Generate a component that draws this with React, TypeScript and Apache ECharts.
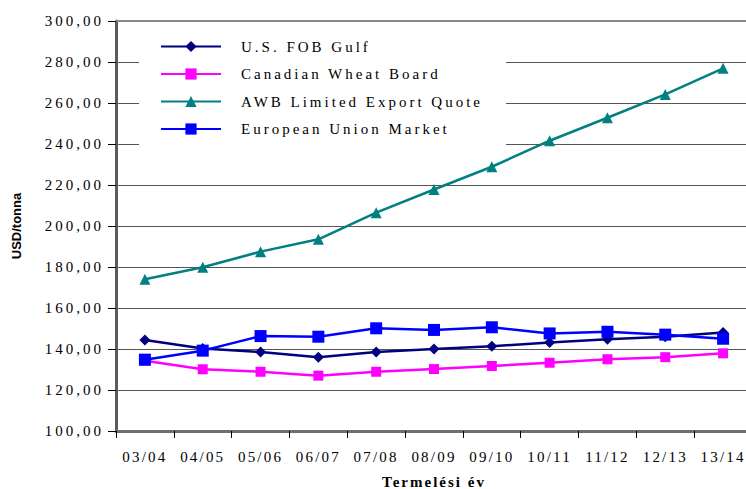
import React, { useEffect, useRef } from 'react';
import * as echarts from 'echarts';

const categories = ['03/04', '04/05', '05/06', '06/07', '07/08', '08/09', '09/10', '10/11', '11/12', '12/13', '13/14'];
const seriesNames = ['U.S. FOB Gulf', 'Canadian Wheat Board', 'AWB Limited Export Quote', 'European Union Market'];
const usFobGulf = [144.4, 140.2, 138.5, 136.0, 138.5, 140.0, 141.3, 143.2, 144.7, 146.0, 148.0];
const canadianWheatBoard = [134.3, 130.1, 128.9, 127.0, 128.9, 130.2, 131.7, 133.3, 135.0, 136.0, 137.9];
const awbExportQuote = [174.0, 179.9, 187.5, 193.5, 206.5, 217.8, 228.9, 241.6, 252.8, 264.2, 276.9];
const euMarket = [134.8, 139.2, 146.3, 146.0, 150.1, 149.3, 150.6, 147.6, 148.4, 147.0, 145.0];
const yMin = 100;
const yMax = 300;
const yStep = 20;
const xAxisTitle = 'Termelési év';
const yAxisTitle = 'USD/tonna';

const serif = 'Liberation Serif';

export default function App() {
  const ref = useRef<HTMLDivElement>(null);
  useEffect(() => {
    const el = ref.current!;
    const chart = echarts.init(el, null, { renderer: 'svg' });
    const mk = (name: string, data: number[], color: string, symbol: string, size: number) => ({
      name,
      type: 'line',
      data,
      symbol,
      symbolSize: size,
      showSymbol: true,
      lineStyle: { color, width: 2.5 },
      itemStyle: { color, borderWidth: 0 },
      emphasis: { disabled: true },
    });
    chart.setOption({
      animation: false,
      backgroundColor: '#ffffff',
      grid: { left: 116, top: 21, width: 636, height: 410, outerBoundsMode: 'none', containLabel: false },
      legend: {
        orient: 'vertical',
        left: 139,
        top: 32,
        padding: [7, 95, 12, 21],
        backgroundColor: '#ffffff',
        itemWidth: 60,
        itemHeight: 14,
        itemGap: 12.5,
        data: seriesNames,
        textStyle: { fontFamily: serif, fontSize: 15, color: '#000', padding: [0, 0, 0, 15] },
      },
      xAxis: [
        {
          type: 'category',
          data: categories,
          position: 'bottom',
          axisLine: { show: true, lineStyle: { color: '#6e6e6e', width: 3 } },
          axisTick: { show: true, length: 7, lineStyle: { color: '#000', width: 1 } },
          axisLabel: { fontFamily: serif, fontSize: 15, color: '#000', margin: 18 },
          name: xAxisTitle,
          nameLocation: 'middle',
          nameGap: 43,
          nameMoveOverlap: false,
          nameTextStyle: { fontFamily: serif, fontSize: 15, fontWeight: 'bold', color: '#000' },
        },
        {
          type: 'category',
          data: categories,
          position: 'top',
          axisLine: { show: true, lineStyle: { color: '#888888', width: 2 } },
          axisTick: { show: false },
          axisLabel: { show: false },
          splitLine: { show: false },
        },
      ],
      yAxis: {
        type: 'value',
        min: yMin,
        max: yMax,
        interval: yStep,
        axisLine: { show: true, lineStyle: { color: '#5a5a5a', width: 3 } },
        axisTick: { show: true, length: 8, lineStyle: { color: '#000', width: 1 } },
        axisLabel: {
          fontFamily: serif,
          fontSize: 15,
          color: '#000',
          margin: 12,
          formatter: (v: number) => v.toFixed(2).replace('.', ','),
        },
        splitLine: { show: true, lineStyle: { color: '#555555', width: 1 } },
        name: yAxisTitle,
        nameLocation: 'middle',
        nameGap: 93,
        nameMoveOverlap: false,
        nameTextStyle: { fontFamily: 'Liberation Sans', fontSize: 13, fontWeight: 'bold', color: '#000' },
      },
      series: [
        mk(seriesNames[0], usFobGulf, '#000080', 'diamond', 11),
        mk(seriesNames[1], canadianWheatBoard, '#ff00ff', 'rect', 10),
        mk(seriesNames[2], awbExportQuote, '#008080', 'triangle', 11),
        mk(seriesNames[3], euMarket, '#0000ff', 'rect', 12),
      ],
    });
    const applySpacing = () => {
      el.querySelectorAll('text').forEach((t) => {
        const s = t.textContent || '';
        if (s === yAxisTitle) return;
        let ls = '3';
        if (s === xAxisTitle) ls = '2';
        else if (categories.indexOf(s) >= 0) ls = '2.2';
        t.setAttribute('letter-spacing', ls);
      });
    };
    applySpacing();
    chart.on('finished', applySpacing);
    const timer = setTimeout(applySpacing, 50);
    return () => {
      clearTimeout(timer);
      chart.dispose();
    };
  }, []);
  return <div ref={ref} style={{ position: 'fixed', left: 0, top: 0, width: 746, height: 489 }} />;
}
